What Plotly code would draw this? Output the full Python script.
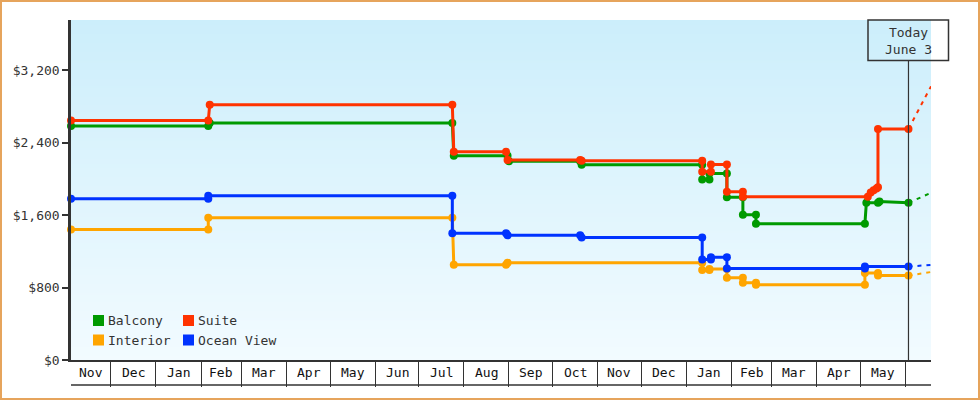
import pandas as pd
import plotly.graph_objects as go

# cruise cabin prices, each change has an old/new point so the steps stay vertical
balcony_dates = ["2012-11-03 12:00", "2013-02-06", "2013-02-07", "2013-07-24", "2013-07-25",
                 "2013-08-31", "2013-09-01", "2013-10-20", "2013-10-21", "2014-01-12", "2014-01-12",
                 "2014-01-17", "2014-01-17", "2014-01-29", "2014-01-29", "2014-02-09", "2014-02-09",
                 "2014-02-18", "2014-02-18", "2014-05-04", "2014-05-05", "2014-05-13", "2014-05-14",
                 "2014-06-03"]
balcony_prices = [2585, 2585, 2618, 2618, 2255,
                  2255, 2195, 2195, 2155, 2155, 1993,
                  1993, 2059, 2059, 1798, 1798, 1604,
                  1604, 1504, 1504, 1736, 1736, 1750,
                  1736]

suite_dates = ["2012-11-03 12:00", "2013-02-06", "2013-02-07", "2013-07-24", "2013-07-25",
               "2013-08-30", "2013-08-31", "2013-10-20", "2013-10-21", "2014-01-12", "2014-01-12",
               "2014-01-18", "2014-01-18", "2014-01-29", "2014-01-29", "2014-02-09", "2014-02-09",
               "2014-05-06", "2014-05-08", "2014-05-10", "2014-05-12", "2014-05-13", "2014-05-13",
               "2014-06-03"]
suite_prices = [2644, 2644, 2820, 2820, 2299,
                2299, 2210, 2210, 2200, 2200, 2078,
                2078, 2159, 2159, 1858, 1858, 1802,
                1802, 1850, 1875, 1895, 1908, 2552,
                2552]

interior_dates = ["2012-11-03 12:00", "2013-02-06", "2013-02-06", "2013-07-24", "2013-07-25",
                  "2013-08-30", "2013-08-31", "2014-01-12", "2014-01-12", "2014-01-17", "2014-01-17",
                  "2014-01-29", "2014-01-29", "2014-02-09", "2014-02-09", "2014-02-18", "2014-02-18",
                  "2014-05-04", "2014-05-04", "2014-05-13", "2014-05-13", "2014-06-03"]
interior_prices = [1442, 1442, 1571, 1571, 1052,
                   1052, 1074, 1074, 995, 995, 1005,
                   1005, 909, 909, 853, 853, 832,
                   832, 962, 962, 932, 932]

ocean_dates = ["2012-11-03 12:00", "2013-02-06", "2013-02-06", "2013-07-24", "2013-07-24",
               "2013-08-30", "2013-08-31", "2013-10-20", "2013-10-21", "2014-01-12", "2014-01-12",
               "2014-01-18", "2014-01-18", "2014-01-29", "2014-01-29", "2014-05-04", "2014-05-04",
               "2014-06-03"]
ocean_prices = [1780, 1780, 1813, 1813, 1401,
                1401, 1378, 1378, 1352, 1352, 1111,
                1111, 1136, 1136, 1011, 1011, 1032,
                1032]

# dashed forecast from today to the edge
today = "2014-06-03"
proj_dates = ["2014-06-03", "2014-06-18 12:00"]
balcony_proj = [1736, 1846]
suite_proj = [2552, 3022]
interior_proj = [932, 972]
ocean_proj = [1032, 1050]

month_labels = ["Nov", "Dec", "Jan", "Feb", "Mar", "Apr", "May", "Jun", "Jul", "Aug",
                "Sep", "Oct", "Nov", "Dec", "Jan", "Feb", "Mar", "Apr", "May", ""]

y_ticks = [0, 800, 1600, 2400, 3200]
y_labels = ["$0", "$800", "$1,600", "$2,400", "$3,200"]

x_start = pd.Timestamp("2012-11-03 12:00")
x_end = pd.Timestamp("2014-06-18 12:00")
y_top = 3755

FONT = "DejaVu Sans Mono"
INK = "#333333"

series = [
    ("Balcony", balcony_dates, balcony_prices, balcony_proj, "#009a00"),
    ("Suite", suite_dates, suite_prices, suite_proj, "#ff3300"),
    ("Interior", interior_dates, interior_prices, interior_proj, "#ffa500"),
    ("Ocean View", ocean_dates, ocean_prices, ocean_proj, "#0033ff"),
]

fig = go.Figure()

# gradient background
fig.add_trace(go.Heatmap(
    x=[x_start, x_end], y=[0, y_top], z=[[0, 0], [1, 1]],
    zsmooth="best", showscale=False, hoverinfo="skip",
    colorscale=[[0, "#f2fbff"], [1, "#cceefb"]],
))

# draw order: orange, blue, green, red (red ends up on top)
for idx in [2, 3, 0, 1]:
    name, d, p, proj, col = series[idx]
    fig.add_trace(go.Scatter(
        x=proj_dates, y=proj, mode="lines", showlegend=False, hoverinfo="skip",
        line=dict(color=col, width=2, dash="4px,5px"),
    ))
    fig.add_trace(go.Scatter(
        x=d, y=p, name=name, mode="lines+markers", showlegend=False, cliponaxis=False,
        line=dict(color=col, width=3),
        marker=dict(color=col, size=8, symbol="circle"),
    ))

# month boxes under the axis
months = pd.date_range("2012-11-01", periods=len(month_labels) + 1, freq="MS")
for i, lab in enumerate(month_labels):
    if not lab:
        continue
    a = max(months[i], x_start)
    b = min(months[i + 1], x_end)
    fig.add_annotation(x=a + (b - a) / 2, y=-12.5 / 340, xref="x", yref="paper", text=lab,
                       showarrow=False, font=dict(family=FONT, size=13, color="#111111"),
                       yanchor="middle")

fig.add_shape(type="line", xref="paper", yref="paper", x0=0, x1=1, y0=-25 / 340, y1=-25 / 340,
              line=dict(color=INK, width=1.5))

# today marker (box in paper coords so it isn't clipped at the plot edge)
fig.add_shape(type="line", xref="x", yref="paper", x0=today, x1=today, y0=0, y1=(360 - 60.5) / 340,
              line=dict(color=INK, width=1.2))
fig.add_shape(type="rect", xref="paper", yref="paper",
              x0=(868 - 71) / 860, x1=(948.5 - 71) / 860, y0=(360 - 60.5) / 340, y1=1.0,
              line=dict(color=INK, width=1.5), fillcolor="rgba(0,0,0,0)")
fig.add_annotation(x=today, y=(360 - 40.5) / 340, xref="x", yref="paper",
                   text="Today<br>June 3", showarrow=False, align="center",
                   font=dict(family=FONT, size=13, color=INK), yanchor="middle")

# legend, drawn by hand so the swatches sit tight against the names
leg_pos = [(93, 320.5), (183, 320.5), (93, 340), (183, 340)]
for (name, d, p, proj, col), (lx, ly) in zip([series[0], series[1], series[2], series[3]], leg_pos):
    fig.add_shape(type="rect", xref="paper", yref="paper",
                  x0=(lx - 71) / 860, x1=(lx + 11 - 71) / 860,
                  y0=(360 - ly - 5.5) / 340, y1=(360 - ly + 5.5) / 340,
                  fillcolor=col, line=dict(width=0))
    fig.add_annotation(x=(lx + 13 - 71) / 860, y=(360 - ly) / 340, xref="paper", yref="paper",
                       text=name, showarrow=False, xanchor="left", yanchor="middle",
                       font=dict(family=FONT, size=13, color=INK))

# orange frame round the whole image
fig.add_shape(type="rect", xref="paper", yref="paper",
              x0=(1 - 71) / 860, x1=(979 - 71) / 860,
              y0=(360 - 399) / 340, y1=(360 - 1) / 340,
              line=dict(color="#e6a45c", width=2), fillcolor="rgba(0,0,0,0)")

fig.update_layout(
    width=980, height=400,
    margin=dict(l=71, r=49, t=20, b=40),
    paper_bgcolor="white", plot_bgcolor="white",
    font=dict(family=FONT, size=13, color=INK),
    showlegend=False,
    xaxis=dict(
        range=[x_start, x_end], tickvals=list(months[1:]), showticklabels=False,
        ticks="outside", ticklen=25, tickcolor=INK, tickwidth=1.2,
        showgrid=False, zeroline=False, showline=True, linecolor=INK, linewidth=1.5,
    ),
    yaxis=dict(
        range=[0, y_top], tickvals=y_ticks, ticktext=y_labels,
        ticks="outside", ticklen=6, tickcolor=INK, tickwidth=2,
        showgrid=False, zeroline=False, showline=True, linecolor=INK, linewidth=2.5,
        tickfont=dict(family=FONT, size=13, color=INK),
    ),
)

# page has an 8px body margin by default; drop it so the figure sits at 0,0
fig.write_html("out.html", config={"displayModeBar": False},
               post_script="document.body.style.margin='0';document.body.style.overflow='hidden';")
